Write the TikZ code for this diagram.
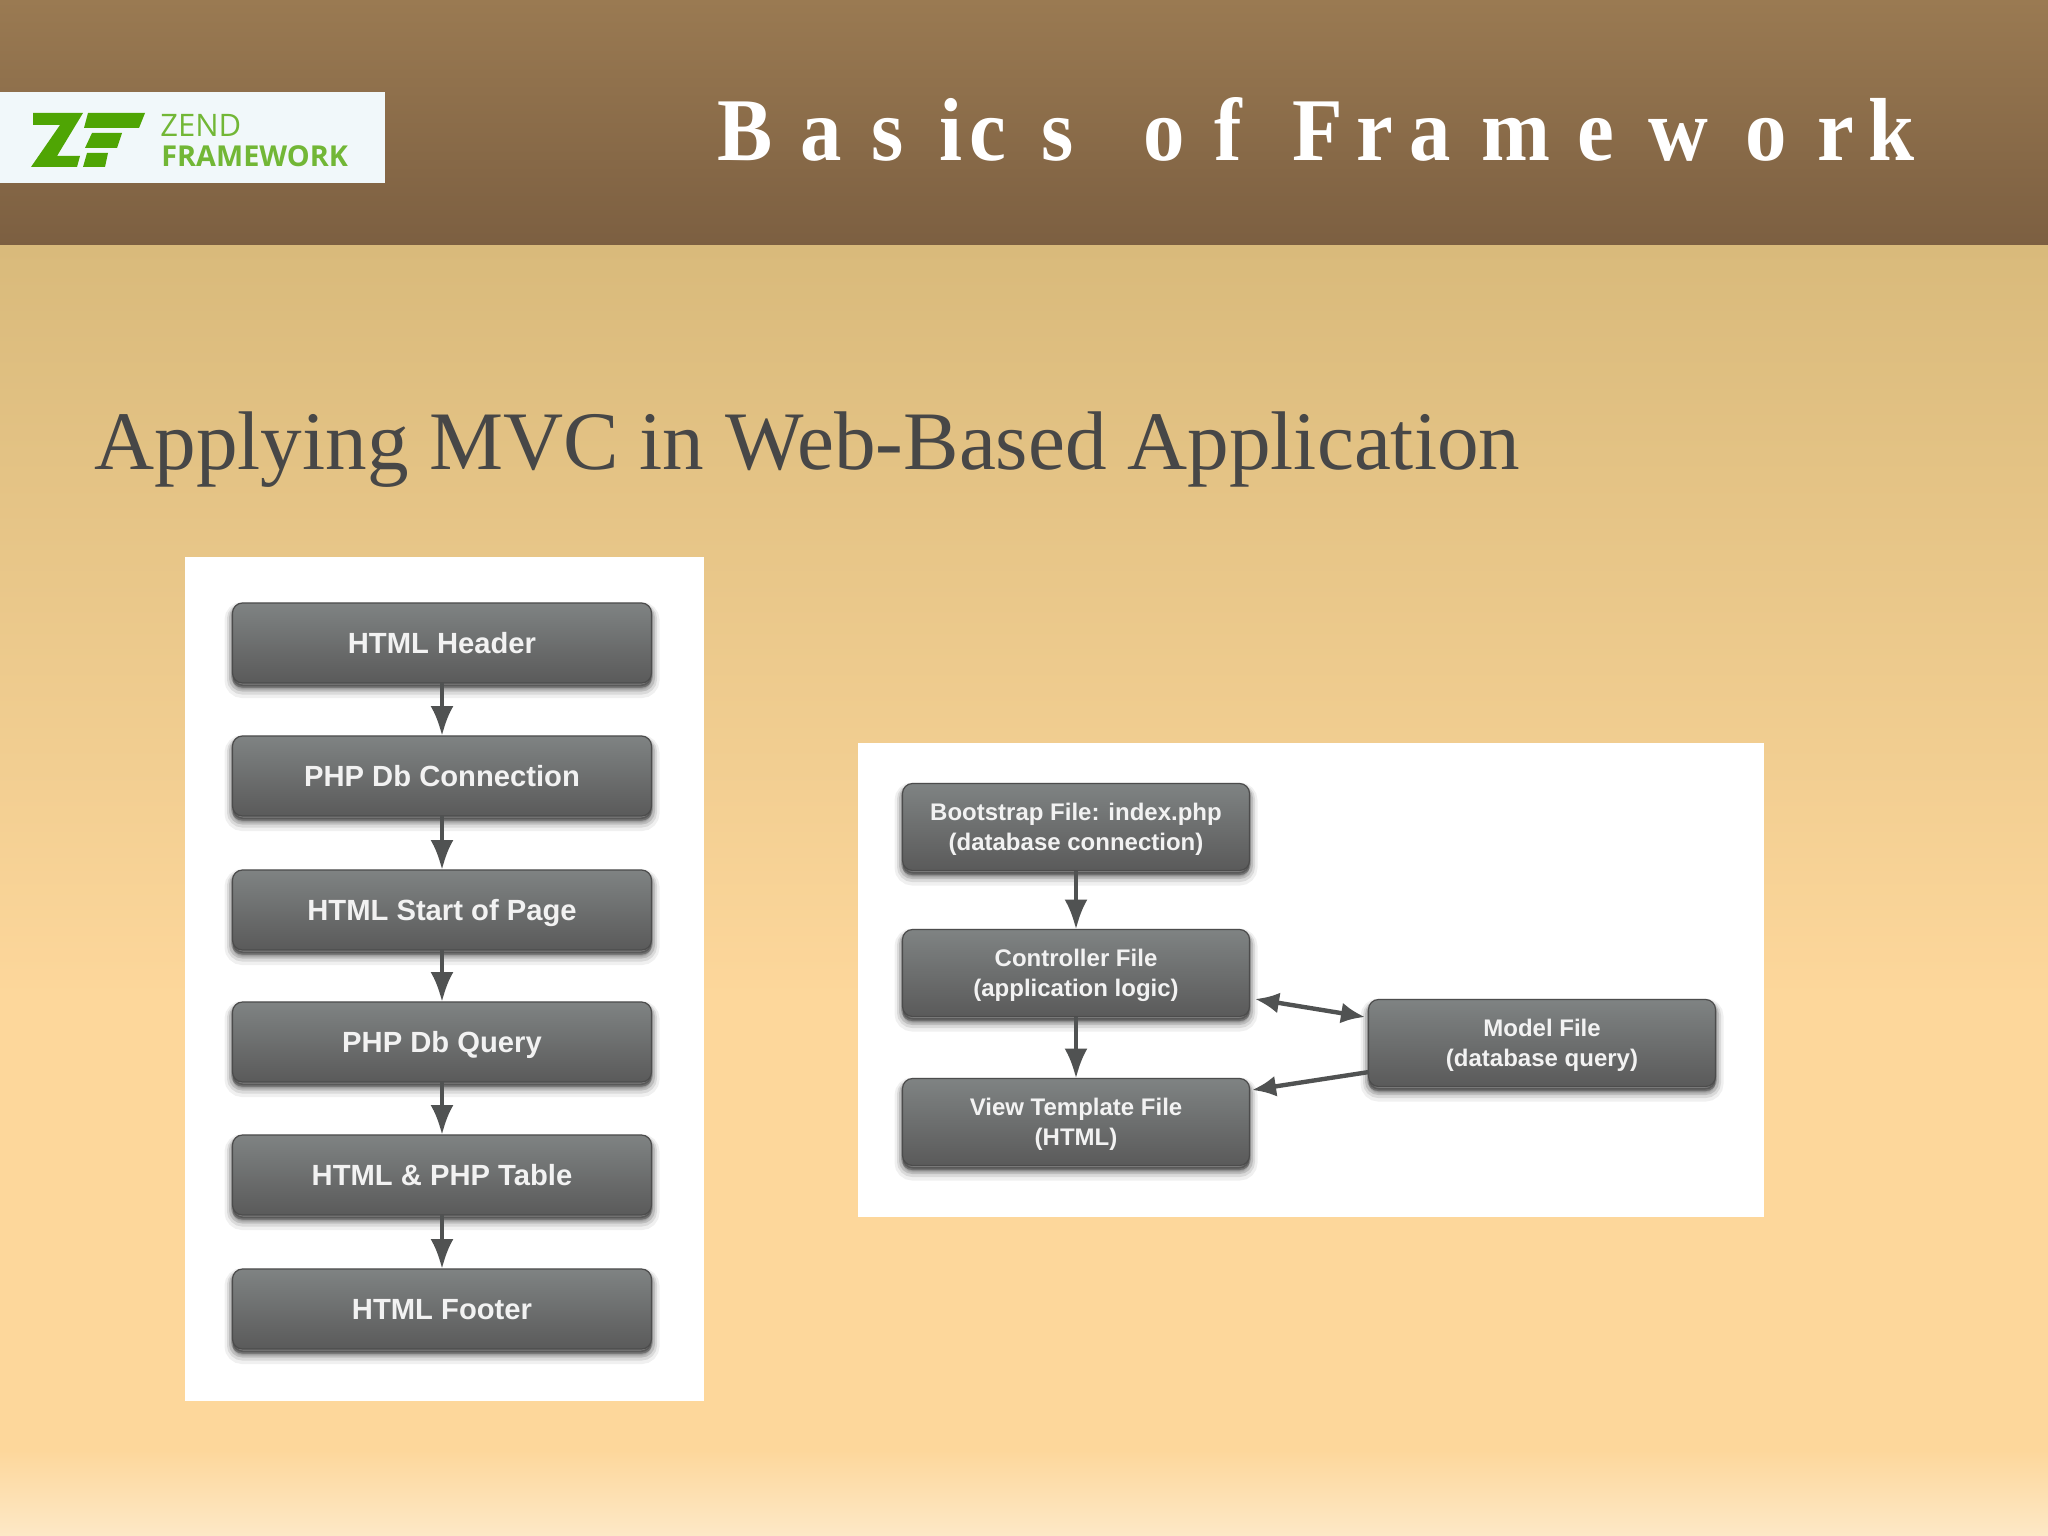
\documentclass[tikz,border=0pt]{standalone}
\usepackage{fontspec}
\setmainfont{Liberation Serif}
\setsansfont{Liberation Sans}
\newfontfamily\titlefont[FakeStretch=.925]{Liberation Serif}
\newfontfamily\logofont{Open Sans}
\usetikzlibrary{arrows.meta,calc}
\newcommand\tk[1]{\kern#1pt\relax}
\newcommand\firstline{\rule{0pt}{11.4pt}}
\definecolor{headtop}{HTML}{9A7A52}
\definecolor{headbot}{HTML}{7C5F41}
\definecolor{bodytop}{HTML}{D9BA7B}
\definecolor{bodymid}{HTML}{FDD79B}
\definecolor{bodybot}{HTML}{FDE8C6}
\definecolor{boxtop}{HTML}{7F8383}
\definecolor{boxbot}{HTML}{5A5A5A}
\definecolor{boxedge}{HTML}{4C4C4C}
\definecolor{arrowgray}{HTML}{505252}
\definecolor{zendgreen}{HTML}{4FA504}
\definecolor{logobg}{HTML}{F1F8FA}
\tikzset{
  band/.style={draw=none,inner sep=0,outer sep=0},
  panel/.style={draw=none,fill=white,rectangle,inner sep=0,outer sep=0},
  softshadow/.style={
    preaction={fill=black,draw=black,line width=8pt,opacity=.06,transform canvas={yshift=-3.5pt}},
    preaction={fill=black,draw=black,line width=5.5pt,opacity=.09,transform canvas={yshift=-3pt}},
    preaction={fill=black,draw=black,line width=3.5pt,opacity=.13,transform canvas={yshift=-2.5pt}},
    preaction={fill=black,draw=black,line width=1.5pt,opacity=.2,transform canvas={yshift=-1.5pt}}},
  flowbase/.style={rectangle,rounded corners=5pt,draw=boxedge,line width=.6pt,
    top color=boxtop,bottom color=boxbot,softshadow,inner sep=0,outer sep=0,
    text=white!95!black,align=center},
  stepbox/.style={flowbase,minimum width=209.5pt,minimum height=40pt,text height=13.8pt,text depth=3pt,
    font=\sffamily\bfseries\fontsize{14.6}{17}\selectfont},
  filebox/.style={flowbase,minimum width=173.5pt,minimum height=43.5pt,
    font=\sffamily\bfseries\fontsize{12}{15}\selectfont},
  flow/.style={draw=arrowgray,line width=2.2pt,-{Latex[length=15pt,width=11.5pt]}},
  flowboth/.style={draw=arrowgray,line width=2.2pt,{Latex[length=12pt,width=10.5pt]}-{Latex[length=12pt,width=10.5pt]}},
  flowside/.style={draw=arrowgray,line width=2.2pt,-{Latex[length=12pt,width=10.5pt]}},
  zmark/.style={fill=zendgreen,draw=none},
}
\begin{document}
\begin{tikzpicture}[x=.5pt,y=-.5pt]
\useasboundingbox (0,0) rectangle (2048,1535);
% background
\shade[band,top color=headtop,bottom color=headbot] (0,0) rectangle (2048,246);
\shade[band,top color=bodytop,bottom color=bodymid] (0,246) rectangle (2048,1000);
\fill[bodymid] (0,1000) rectangle (2048,1450);
\shade[band,top color=bodymid,bottom color=bodybot] (0,1450) rectangle (2048,1535);
% logo
\fill[logobg] (0,92) rectangle (385,183);
\fill[zmark] (33,113) -- (83,113) -- (57,156) -- (80,156) -- (77,167) -- (31,167) -- (60,125) -- (33,125) -- cycle;
\fill[zmark] (88,113) -- (145,113) -- (139,128) -- (84,128) -- cycle;
\fill[zmark] (92,133) -- (122,133) -- (117,148) -- (85,148) -- cycle;
\fill[zmark] (87,153) -- (108,153) -- (105,167) -- (83,167) -- cycle;
\node[anchor=base west,inner sep=0,text=zendgreen!80!white,font=\logofont\fontsize{15.5}{18}\selectfont] (zend) at (160,137) {ZEND};
\node[anchor=base west,inner sep=0,text=zendgreen!80!white,font=\logofont\bfseries\fontsize{14.4}{18}\selectfont] (fw) at (161,167) {FRAMEWORK};
% titles
\node[anchor=base west,inner sep=0,text=white,font=\titlefont\bfseries\fontsize{44.75}{50}\selectfont] (title) at (717,161) {B\tk{13.9}a\tk{14.8}s\tk{17.9}i\tk{3.5}c\tk{17.6}s\tk{24.5} o\tk{14.8}f\tk{14.9} F\tk{6.7}r\tk{8.1}a\tk{15.3}m\tk{13.5}e\tk{17.1}w\tk{18.6}o\tk{15.3}r\tk{7.1}k};
\node[anchor=base west,inner sep=0,text=black!72,font=\rmfamily\fontsize{41.6}{46}\selectfont] (sub) at (94,469) {Applying MVC in Web-Based Application};
% panels
\node[panel,minimum width=259.5pt,minimum height=422pt] (pl) at (444.5,979) {};
\node[panel,minimum width=453pt,minimum height=237pt] (pr) at (1311,979.5) {};
% left flow
\node[stepbox] (a1) at (442,643) {HTML Header};
\node[stepbox] (a2) at (442,776) {PHP Db Connection};
\node[stepbox] (a3) at (442,910) {HTML Start of Page};
\node[stepbox] (a4) at (442,1042) {PHP Db Query};
\node[stepbox] (a5) at (442,1175) {HTML \& PHP Table};
\node[stepbox] (a6) at (442,1309) {HTML Footer};
\draw[flow] (a1) -- (a2);
\draw[flow] (a2) -- (a3);
\draw[flow] (a3) -- (a4);
\draw[flow] (a4) -- (a5);
\draw[flow] (a5) -- (a6);
% right flow
\node[filebox] (boot) at (1076,827) {\firstline Bootstrap File: index.php\\(database connection)};
\node[filebox] (ctrl) at (1076,973) {\firstline Controller File\\(application logic)};
\node[filebox] (view) at (1076,1122) {\firstline View Template File\\(HTML)};
\node[filebox] (model) at (1542,1043) {\firstline Model File\\(database query)};
\coordinate (c1) at (1255,999);
\coordinate (c2) at (1365,1017);
\coordinate (c3) at (1369,1072);
\coordinate (c4) at (1252,1090);
\draw[flow] (boot) -- (ctrl);
\draw[flow] (ctrl) -- (view);
\draw[flowboth] (c1) -- (c2);
\draw[flowside] (c3) -- (c4);
\end{tikzpicture}
\end{document}
